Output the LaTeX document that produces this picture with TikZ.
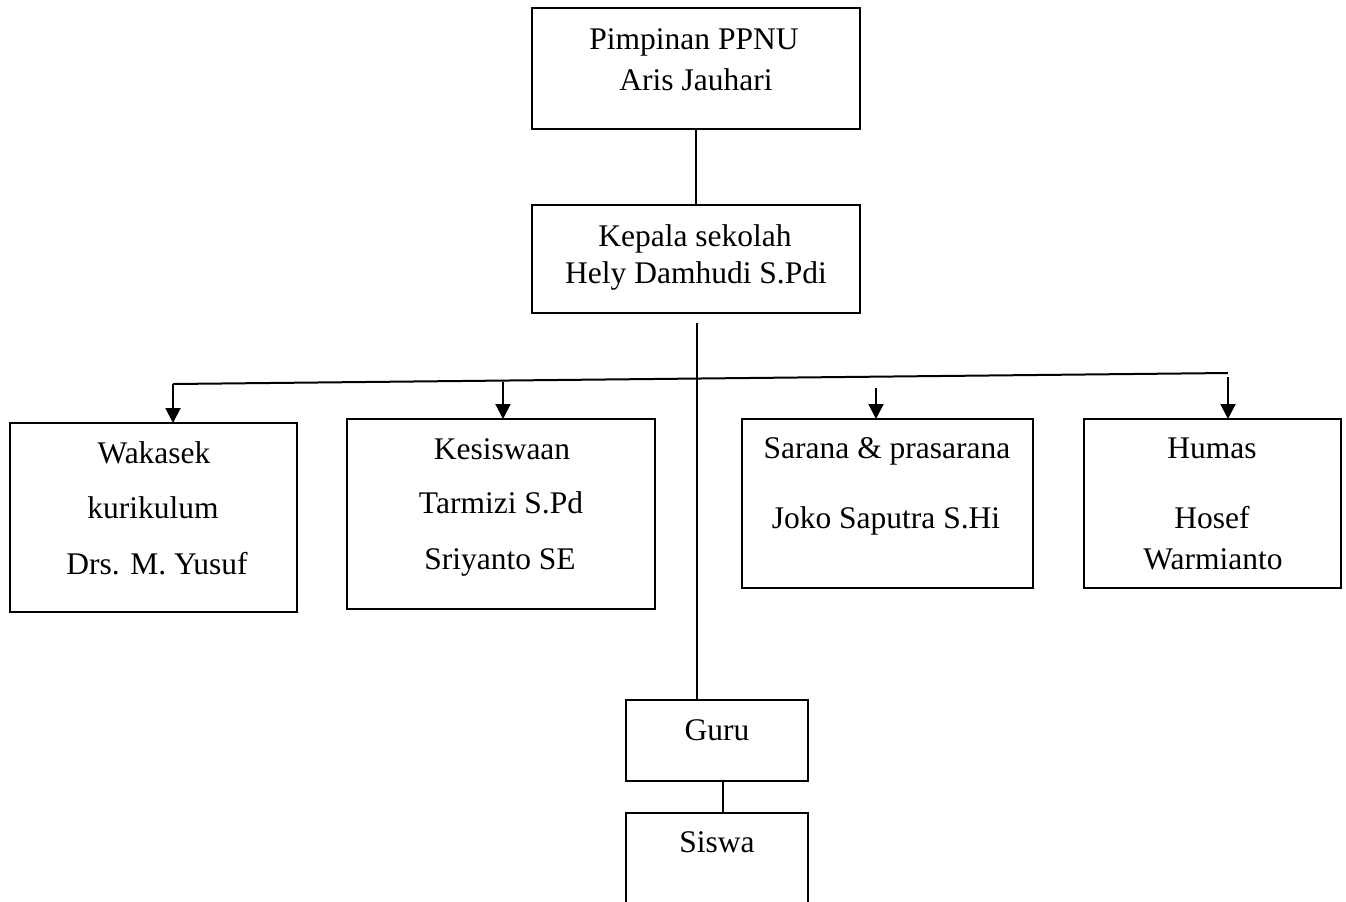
\documentclass[tikz,border=0pt]{standalone}
\usepackage{fontspec}
\setmainfont{Liberation Serif}
\usetikzlibrary{arrows.meta}
\begin{document}
\begin{tikzpicture}[x=0.4pt,y=-0.4pt,
  box/.style={draw, line width=0.8pt, inner sep=0pt, outer sep=0pt, anchor=north west},
  txt/.style={font=\fontsize{12.6}{15}\selectfont, anchor=base, inner sep=0pt},
  ln/.style={line width=0.8pt},
  arr/.style={line width=0.8pt, -{Triangle[width=6pt,length=6pt]}}]
\useasboundingbox (0,0) rectangle (1346,901);
\clip (0,0) rectangle (1346,901);
% boxes
\node[box, minimum width={328*0.4pt}, minimum height={121*0.4pt}] (pim) at (532,8) {};
\node[box, minimum width={328*0.4pt}, minimum height={108*0.4pt}] (kep) at (532,205) {};
\node[box, minimum width={287*0.4pt}, minimum height={189*0.4pt}] (wak) at (10,423) {};
\node[box, minimum width={308*0.4pt}, minimum height={190*0.4pt}] (kes) at (347,419) {};
\node[box, minimum width={291*0.4pt}, minimum height={169*0.4pt}] (sar) at (742,419) {};
\node[box, minimum width={257*0.4pt}, minimum height={169*0.4pt}] (hum) at (1084,419) {};
\node[box, minimum width={182*0.4pt}, minimum height={81*0.4pt}] (guru) at (626,700) {};
\node[box, draw=none, minimum width={182*0.4pt}, minimum height={110*0.4pt}] (siswa) at (626,813) {};
\draw[ln] (siswa.south west) -- (siswa.north west) -- (siswa.north east) -- (siswa.south east);
% texts
\node[txt] (t1) at (694,49) {Pimpinan PPNU};
\node[txt] (t2) at (696,90) {Aris Jauhari};
\node[txt] (t3) at (695,246) {Kepala sekolah};
\node[txt] (t4) at (696,283) {Hely Damhudi S.Pdi};
\node[txt] (t5) at (154,463) {Wakasek};
\node[txt] (t6) at (153,518) {kurikulum};
\node[txt] (t7) at (157,574) {Drs. M. Yusuf};
\node[txt] (t8) at (502,459) {Kesiswaan};
\node[txt] (t9) at (501,513) {Tarmizi S.Pd};
\node[txt] (t10) at (500,569) {Sriyanto SE};
\node[txt] (t11) at (887,458) {Sarana \& prasarana};
\node[txt] (t12) at (886,528) {Joko Saputra S.Hi};
\node[txt] (t13) at (1212,458) {Humas};
\node[txt] (t14) at (1212,528) {Hosef};
\node[txt] (t15) at (1213,569) {Warmianto};
\node[txt] (t16) at (717,740) {Guru};
\node[txt] (t17) at (717,852) {Siswa};
% connectors
\draw[ln] (pim.south) -- (kep.north);
\coordinate (t0) at (697,323);
\draw[ln] (t0) -- (t0 |- guru.north);
\coordinate (hl) at (173,384);
\coordinate (hr) at (1228,373);
\draw[ln] (hl) -- (hr);
\draw[arr] (hl) -- (hl |- wak.north);
\coordinate (a2) at (503,382);
\draw[arr] (a2) -- (a2 |- kes.north);
\coordinate (a3) at (876,388);
\draw[arr] (a3) -- (a3 |- sar.north);
\coordinate (a4) at (1228,377);
\draw[arr] (a4) -- (a4 |- hum.north);
\draw[ln] ([xshift=2.4pt]guru.south) -- ([xshift=2.4pt]siswa.north);
\end{tikzpicture}
\end{document}
